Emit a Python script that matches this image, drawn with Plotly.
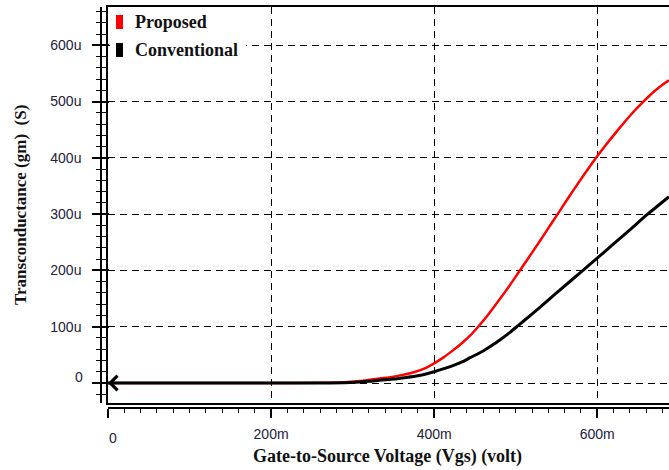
import plotly.graph_objects as go

# ---- data (x in mV, y in uS) ----
vgs_proposed = [0, 100, 200, 260, 290, 313, 333, 345, 360, 375, 390, 400, 412, 423, 435, 444, 454,
                465, 481, 490, 500, 507, 524, 535, 550, 565, 579, 590, 600, 610, 620, 632, 644,
                656, 669, 680, 688]
gm_proposed = [0, 0, 0, 0.5, 1.5, 4, 8, 10, 14, 19, 27, 35, 46, 58, 72, 84, 100,
               119, 150, 168, 189, 204, 240, 264, 297, 330, 360, 383, 403, 422, 440, 461, 481,
               499, 517, 530, 538]

vgs_conventional = [0, 100, 200, 260, 297, 320, 333, 350, 366, 380, 390, 400, 411, 423, 435, 444,
                    459, 472, 481, 493, 503, 517, 530, 542, 554, 580, 600, 620, 640, 661, 688]
gm_conventional = [0, 0, 0, 0, 1, 3, 5, 7, 10, 13, 16, 20, 25, 31, 38, 45,
                   56, 68, 77, 90, 102, 119, 135, 150, 165, 197, 222, 247, 272, 299, 331]

series_names = ["Proposed", "Conventional"]
series_colors = ["#ff0000", "#000000"]

x_tick_vals = [0, 200, 400, 600]
x_tick_labels = ["0", "200m", "400m", "600m"]
y_tick_vals = [0, 100, 200, 300, 400, 500, 600]
y_tick_labels = ["0", "100u", "200u", "300u", "400u", "500u", "600u"]

x_title = "Gate-to-Source Voltage (Vgs) (volt)"
y_title = "Transconductance (gm)  (S)"

x_range = [0, 688]
y_range = [-35.5, 668]

# ---- layout geometry (pixels) ----
W, H = 669, 470
ML, MR, MT, MB = 101, 0, 7, 62
PW = W - ML - MR
PH = H - MT - MB


def px(xp):
    return (xp - ML) / PW


def py(yp):
    return (H - MB - yp) / PH


xdom = [px(108), 1]
ydom = [py(403), 1]

grid_color = "#000000"
tick_font = dict(family="Liberation Sans, Arial, sans-serif", size=14, color="#22223a")
serif_bold = "Liberation Serif, Times New Roman, serif"

fig = go.Figure()
fig.add_trace(go.Scatter(x=vgs_proposed, y=gm_proposed, mode="lines", name=series_names[0],
                         line=dict(color=series_colors[0], width=2.5, shape="spline", smoothing=0.6),
                         showlegend=False))
fig.add_trace(go.Scatter(x=vgs_conventional, y=gm_conventional, mode="lines", name=series_names[1],
                         line=dict(color=series_colors[1], width=3, shape="spline", smoothing=0.6),
                         showlegend=False))

fig.update_layout(
    width=W, height=H,
    margin=dict(l=ML, r=MR, t=MT, b=MB, pad=0),
    paper_bgcolor="white", plot_bgcolor="white",
    showlegend=False,
    xaxis=dict(domain=xdom, range=x_range, anchor="y",
               tickvals=x_tick_vals[1:], showticklabels=False, ticks="",
               showgrid=True, gridcolor=grid_color, gridwidth=1.3, griddash="7px,5px",
               showline=True, linecolor="black", linewidth=2, mirror=True, zeroline=False),
    yaxis=dict(domain=ydom, range=y_range, anchor="x",
               tickvals=y_tick_vals, showticklabels=False, ticks="",
               showgrid=True, gridcolor=grid_color, gridwidth=1.3, griddash="7px,5px",
               showline=True, linecolor="black", linewidth=2, mirror=False, zeroline=False),
    xaxis2=dict(domain=xdom, range=x_range, overlaying="x", anchor="free", position=0,
                tickvals=x_tick_vals, ticktext=[""] + x_tick_labels[1:],
                ticks="outside", ticklen=9, tickwidth=1.5, tickcolor="black",
                ticklabelstandoff=4,
                minor=dict(dtick=20, ticks="outside", ticklen=4, tickwidth=1.2, tickcolor="black"),
                showline=True, linecolor="black", linewidth=1.5, showgrid=False, zeroline=False,
                tickfont=tick_font),
    yaxis2=dict(domain=ydom, range=y_range, overlaying="y", anchor="free", position=0, side="left",
                tickvals=y_tick_vals, ticktext=[""] + y_tick_labels[1:],
                ticks="outside", ticklen=8, tickwidth=1.5, tickcolor="black",
                ticklabelstandoff=8,
                minor=dict(dtick=20, ticks="outside", ticklen=4, tickwidth=1.2, tickcolor="black"),
                showline=True, linecolor="black", linewidth=1.5, showgrid=False, zeroline=False,
                tickfont=tick_font),
    yaxis3=dict(domain=ydom, range=y_range, overlaying="y", anchor="free", position=0, side="left",
                tickvals=y_tick_vals, showticklabels=False,
                ticks="inside", ticklen=7, tickwidth=1.5, tickcolor="black",
                minor=dict(dtick=20, ticks="inside", ticklen=4, tickwidth=1.2, tickcolor="black"),
                showline=False, showgrid=False, zeroline=False),
)

# invisible traces to activate overlay axes
fig.add_trace(go.Scatter(x=[x_range[0]], y=[y_range[0]], xaxis="x2", yaxis="y2",
                         mode="markers", marker=dict(opacity=0), hoverinfo="skip", showlegend=False))
fig.add_trace(go.Scatter(x=[x_range[0]], y=[y_range[0]], xaxis="x2", yaxis="y3",
                         mode="markers", marker=dict(opacity=0), hoverinfo="skip", showlegend=False))

annotations = []
annotations.append(dict(text="<b>%s</b>" % x_title, xref="paper", yref="paper",
                        x=px(387), y=py(456), xanchor="center", yanchor="middle", showarrow=False,
                        font=dict(family=serif_bold, size=18, color="#111111")))
annotations.append(dict(text="<b>%s</b>" % y_title, xref="paper", yref="paper",
                        x=px(20), y=py(205), xanchor="center", yanchor="middle", showarrow=False,
                        textangle=-90, font=dict(family=serif_bold, size=17, color="#111111")))
annotations.append(dict(text=x_tick_labels[0], xref="paper", yref="paper",
                        x=px(112.5), y=py(438), xanchor="center", yanchor="middle", showarrow=False,
                        font=tick_font))
annotations.append(dict(text=y_tick_labels[0], xref="paper", yref="paper",
                        x=px(79), y=py(377), xanchor="center", yanchor="middle", showarrow=False,
                        font=tick_font))
legend_rows_y = [22, 50]
for name, yy in zip(series_names, legend_rows_y):
    annotations.append(dict(text="<b>%s</b>" % name, xref="paper", yref="paper",
                            x=px(133), y=py(yy), xanchor="left", yanchor="middle", showarrow=False,
                            font=dict(family=serif_bold, size=18, color="#111111")))
annotations.append(dict(x=vgs_conventional[0], y=gm_conventional[0], xref="x", yref="y",
                        ax=14, ay=0, axref="pixel", ayref="pixel", text="", showarrow=True,
                        arrowhead=4, arrowsize=1.4, arrowwidth=2, arrowcolor="black", standoff=0))

shapes = [dict(type="rect", xref="paper", yref="paper", layer="above",
               x0=px(110), x1=px(246), y0=py(62), y1=py(8.5),
               fillcolor="white", line=dict(width=0))]
for color, yy in zip(series_colors, legend_rows_y):
    shapes.append(dict(type="rect", xref="paper", yref="paper", layer="above",
                       x0=px(116), x1=px(123), y0=py(yy + 7), y1=py(yy - 7),
                       fillcolor=color, line=dict(width=0)))

fig.update_layout(annotations=annotations, shapes=shapes)

fig.write_html("out.html")
